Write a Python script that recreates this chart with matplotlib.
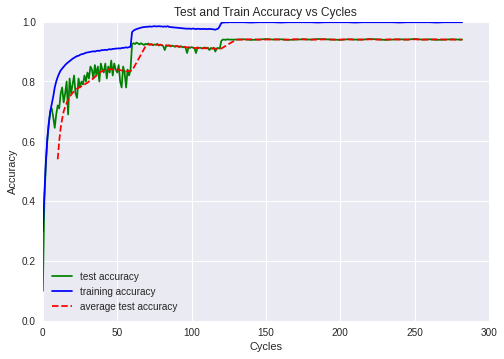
import numpy as np
import matplotlib
matplotlib.use("Agg")
import matplotlib.pyplot as plt

plt.style.use("seaborn-v0_8")

"DATA"
# test accuracy, one value per cycle up to 125, then every 5 cycles
test_x = list(range(0, 126)) + list(range(130, 281, 5)) + [282]
test_acc = [
    0.10, 0.40, 0.52, 0.60, 0.66, 0.70, 0.71, 0.68, 0.645, 0.69,
    0.72, 0.71, 0.76, 0.78, 0.73, 0.76, 0.80, 0.69, 0.81, 0.76,
    0.79, 0.82, 0.76, 0.745, 0.81, 0.78, 0.80, 0.79, 0.82, 0.80,
    0.83, 0.81, 0.85, 0.84, 0.81, 0.855, 0.82, 0.85, 0.80, 0.86,
    0.84, 0.83, 0.86, 0.81, 0.85, 0.83, 0.87, 0.82, 0.86, 0.84,
    0.83, 0.855, 0.80, 0.78, 0.85, 0.83, 0.78, 0.84, 0.82, 0.84,
    0.925, 0.928, 0.925, 0.93, 0.927, 0.924, 0.928, 0.925, 0.922, 0.926,
    0.924, 0.927, 0.923, 0.925, 0.921, 0.924, 0.922, 0.926, 0.920, 0.923,
    0.921, 0.918, 0.905, 0.92, 0.919, 0.921, 0.917, 0.92, 0.918, 0.916,
    0.919, 0.917, 0.915, 0.918, 0.914, 0.916, 0.913, 0.895, 0.914, 0.912,
    0.915, 0.913, 0.911, 0.895, 0.914, 0.912, 0.913, 0.91, 0.912, 0.914,
    0.911, 0.913, 0.905, 0.912, 0.91, 0.913, 0.90, 0.911, 0.912, 0.91,
    0.935, 0.94, 0.94, 0.939, 0.941, 0.94,
    0.94, 0.941, 0.939, 0.94, 0.942, 0.94, 0.941, 0.939, 0.94, 0.941,
    0.94, 0.942, 0.941, 0.94, 0.939, 0.941, 0.94, 0.94, 0.942, 0.941,
    0.939, 0.94, 0.941, 0.94, 0.942, 0.94, 0.941, 0.939, 0.94, 0.941,
    0.94, 0.94,
]

train_x = list(range(0, 126)) + list(range(130, 281, 5)) + [282]
train_acc = [
    0.30, 0.42, 0.53, 0.61, 0.66, 0.70, 0.725, 0.75, 0.78, 0.80,
    0.815, 0.827, 0.837, 0.843, 0.849, 0.855, 0.86, 0.864, 0.868, 0.872,
    0.876, 0.879, 0.882, 0.885, 0.886, 0.889, 0.891, 0.892, 0.894, 0.896,
    0.897, 0.898, 0.899, 0.90, 0.901, 0.90, 0.902, 0.903, 0.902, 0.904,
    0.905, 0.905, 0.906, 0.905, 0.907, 0.908, 0.907, 0.909, 0.909, 0.91,
    0.91, 0.911, 0.91, 0.912, 0.912, 0.913, 0.914, 0.913, 0.915, 0.916,
    0.965, 0.970, 0.973, 0.975, 0.977, 0.978, 0.980, 0.981, 0.982, 0.982,
    0.983, 0.983, 0.984, 0.983, 0.984, 0.985, 0.984, 0.984, 0.985, 0.984,
    0.984, 0.983, 0.984, 0.983, 0.985, 0.982, 0.982, 0.981, 0.981, 0.980,
    0.980, 0.979, 0.979, 0.978, 0.978, 0.977, 0.977, 0.976, 0.977, 0.976,
    0.976, 0.977, 0.976, 0.975, 0.976, 0.976, 0.975, 0.976, 0.975, 0.976,
    0.975, 0.975, 0.976, 0.975, 0.975, 0.974, 0.973, 0.975, 0.977, 0.985,
    0.995, 0.997, 0.997, 0.998, 0.997, 0.998,
    0.998, 0.998, 0.997, 0.998, 0.998, 0.998, 0.997, 0.998, 0.998, 0.998,
    0.998, 0.997, 0.998, 0.998, 0.998, 0.998, 0.997, 0.998, 0.998, 0.998,
    0.998, 0.998, 0.997, 0.998, 0.998, 0.998, 0.998, 0.997, 0.998, 0.998,
    0.998, 0.998,
]

# average test accuracy, starts at cycle 10
avg_x = list(range(10, 131)) + list(range(135, 281, 5)) + [282]
avg_acc = [
    0.54, 0.60, 0.645, 0.675, 0.70, 0.715, 0.728, 0.738, 0.748, 0.755,
    0.762, 0.767, 0.772, 0.776, 0.779, 0.782, 0.784, 0.787, 0.79, 0.793,
    0.796, 0.80, 0.804, 0.807, 0.811, 0.815, 0.82, 0.824, 0.828, 0.832,
    0.835, 0.837, 0.838, 0.839, 0.84, 0.841, 0.841, 0.84, 0.841, 0.84,
    0.839, 0.84, 0.838, 0.837, 0.836, 0.835, 0.834, 0.834, 0.835, 0.836,
    0.836, 0.845, 0.854, 0.863, 0.872, 0.881, 0.89, 0.899, 0.908, 0.917,
    0.924, 0.924, 0.923, 0.924, 0.923, 0.923, 0.924, 0.923, 0.922, 0.923,
    0.922, 0.921, 0.92, 0.921, 0.92, 0.92, 0.919, 0.92, 0.919, 0.918,
    0.918, 0.917, 0.917, 0.916, 0.916, 0.916, 0.915, 0.914, 0.914, 0.914,
    0.913, 0.913, 0.912, 0.912, 0.912, 0.912, 0.911, 0.912, 0.911, 0.911,
    0.911, 0.911, 0.91, 0.911, 0.91, 0.91, 0.91, 0.909, 0.91, 0.91,
    0.91, 0.913, 0.916, 0.919, 0.922, 0.925, 0.928, 0.931, 0.934, 0.937,
    0.94,
    0.94, 0.941, 0.94, 0.94, 0.941, 0.94, 0.94, 0.941, 0.941, 0.94,
    0.94, 0.941, 0.94, 0.94, 0.941, 0.94, 0.94, 0.941, 0.94, 0.94,
    0.941, 0.94, 0.94, 0.941, 0.94, 0.94, 0.941, 0.94, 0.94, 0.94,
    0.94,
]

"PLOT"
fig = plt.figure(figsize=(7, 4.99), dpi=72)
ax = fig.add_axes([0.085, 0.106, 0.885, 0.833])

ax.plot(test_x, test_acc, "g", label="test accuracy")
ax.plot(train_x, train_acc, "b", label="training accuracy")
ax.plot(avg_x, avg_acc, "r--", label="average test accuracy")

ax.set_xlim(0, 300)
ax.set_ylim(0, 1.0)
ax.set_title("Test and Train Accuracy vs Cycles")
ax.set_xlabel("Cycles")
ax.set_ylabel("Accuracy")
ax.legend(loc="lower left")

fig.savefig("out.png", dpi=72)
